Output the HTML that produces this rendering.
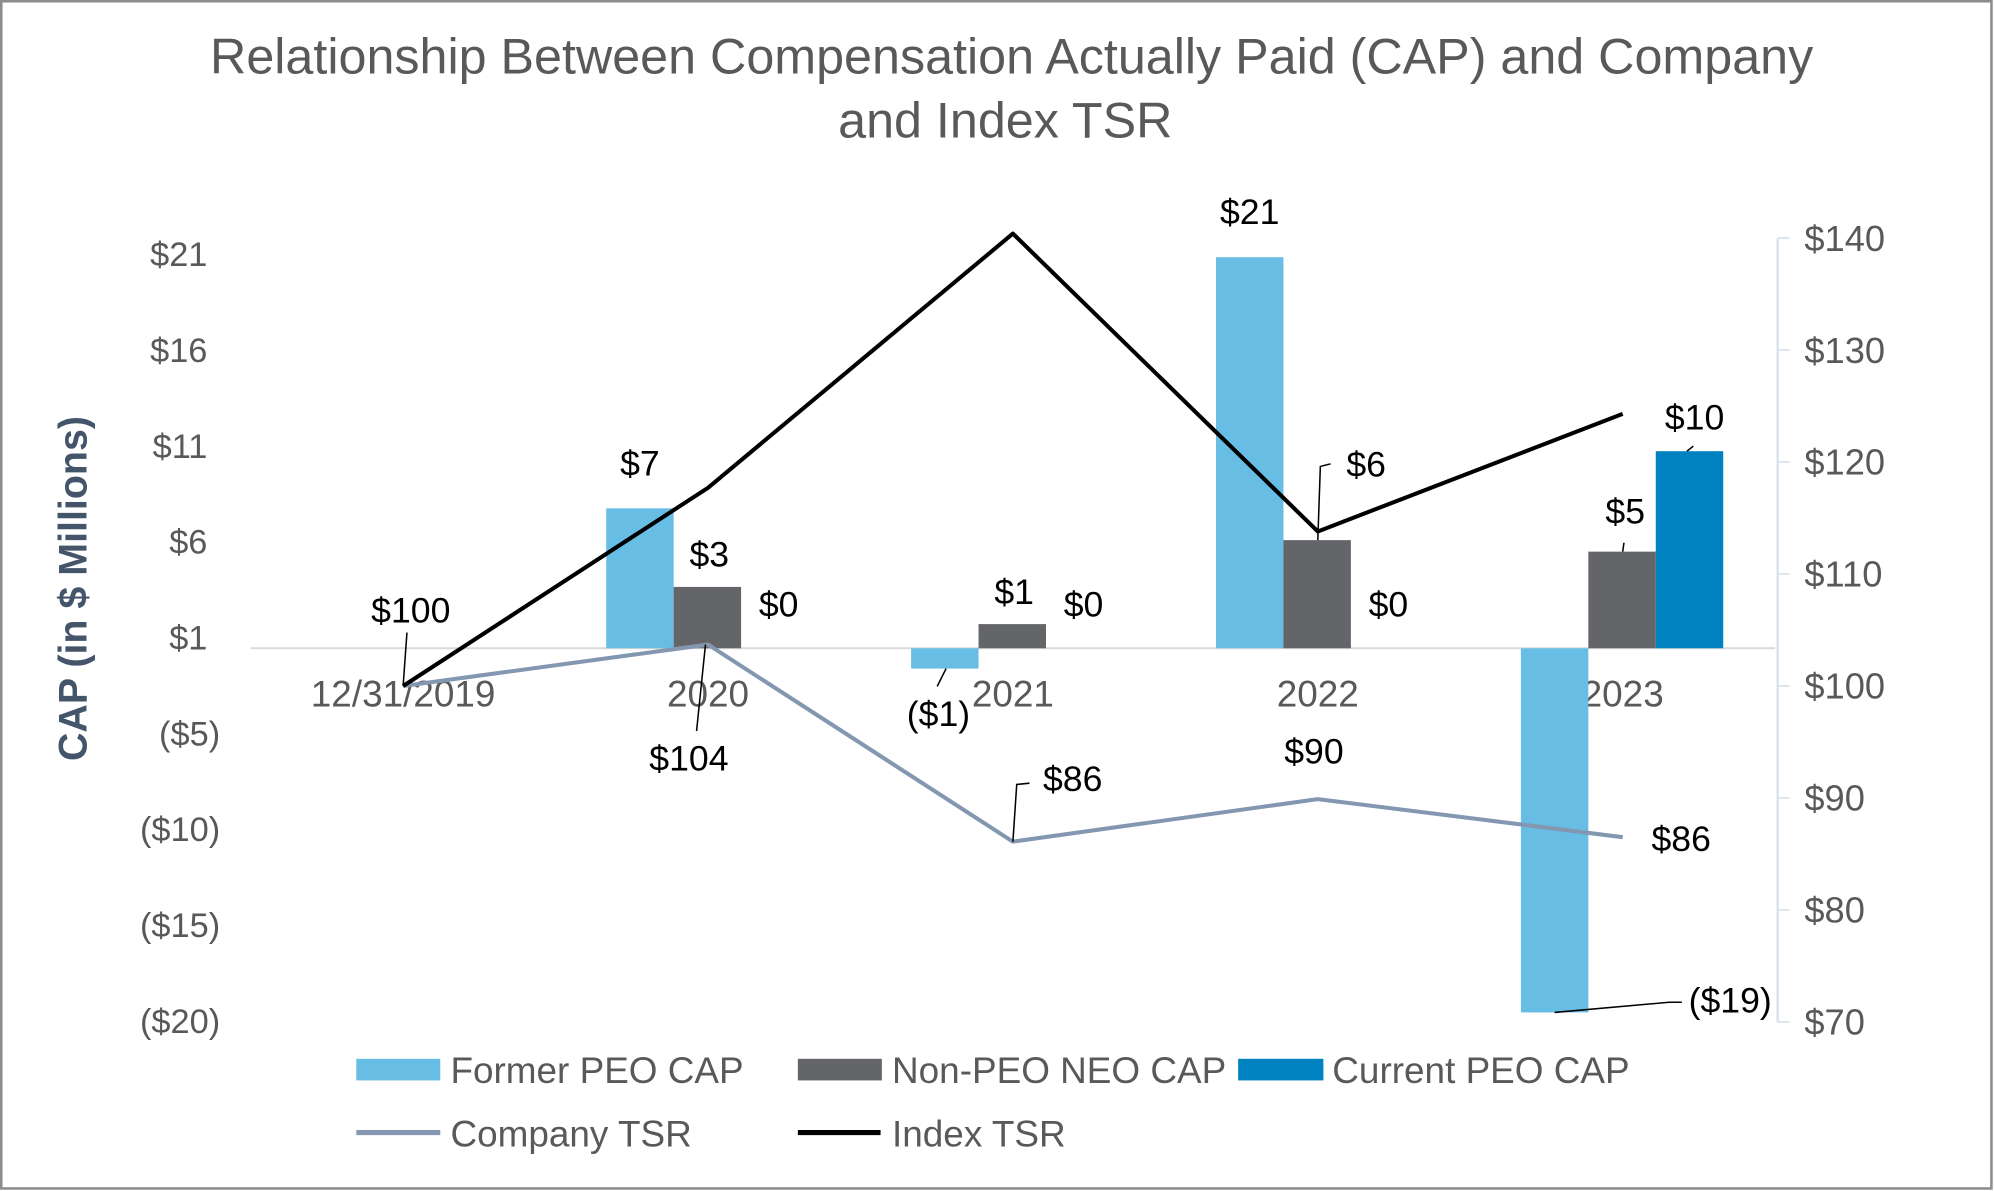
<!DOCTYPE html>
<html><head><meta charset="utf-8"><style>
html,body{margin:0;padding:0;background:#fff;}
svg{display:block;font-family:"Liberation Sans",Arial,sans-serif;}
</style></head><body>
<svg id="chart" width="1994" height="1191" viewBox="0 0 1567 937" preserveAspectRatio="none" xmlns="http://www.w3.org/2000/svg">
<rect x="1" y="1" width="1564" height="934" fill="#fff" stroke="#8c8c8c" stroke-width="2"/>
<text x="795" y="58" text-anchor="middle" font-size="39.5" fill="#595959">Relationship Between Compensation Actually Paid (CAP) and Company</text>
<text x="790" y="108" text-anchor="middle" font-size="39.5" fill="#595959">and Index TSR</text>
<text transform="translate(68,463) rotate(-90)" text-anchor="middle" font-size="31" font-weight="bold" fill="#44546a">CAP (in $ Millions)</text>
<g id="axes"></g>
<g id="bars"></g>
<g id="lines"></g>
<g id="labels"></g>
<g id="legend">
  <rect x="280" y="833" width="66" height="17" fill="#67bde4"/>
  <text x="354" y="852" font-size="29" fill="#595959">Former PEO CAP</text>
  <rect x="627" y="833" width="66" height="17" fill="#646569"/>
  <text x="701" y="852" font-size="29" fill="#595959">Non-PEO NEO CAP</text>
  <rect x="973" y="833" width="67" height="17" fill="#0082c0"/>
  <text x="1047" y="852" font-size="29" fill="#595959">Current PEO CAP</text>
  <line x1="280" y1="891" x2="346" y2="891" stroke="#8497b0" stroke-width="4"/>
  <text x="354" y="902" font-size="29" fill="#595959">Company TSR</text>
  <line x1="627" y1="891" x2="692" y2="891" stroke="#000" stroke-width="4"/>
  <text x="701" y="902" font-size="29" fill="#595959">Index TSR</text>
</g>
</svg>
<script>
const categories = ["12/31/2019","2020","2021","2022","2023"];
const formerPEO = [null, 7.3, -1.06, 20.4, -19.0];
const nonPEO = [null, 3.2, 1.26, 5.64, 5.04];
const currentPEO = [null, 0, 0, 0, 10.28];
const companyTSR = [100, 103.7, 86.1, 89.9, 86.5];
const indexTSR = [100, 117.7, 140.4, 113.8, 124.3];
const leftTicks = [20.6, 15.6, 10.6, 5.6, 0.6, -4.4, -9.4, -14.4, -19.4];
const leftTickLabels = ["$21","$16","$11","$6","$1","($5)","($10)","($15)","($20)"];
const rightTicks = [140,130,120,110,100,90,80,70];
const rightTickLabels = ["$140","$130","$120","$110","$100","$90","$80","$70"];
const formerLabels = ["", "$7", "($1)", "$21", "($19)"];
const nonPEOLabels = ["", "$3", "$1", "$6", "$5"];
const currentLabels = ["", "$0", "$0", "$0", "$10"];
const companyLabels = ["", "$104", "$86", "$90", "$86"];
const indexLabels = ["$100", "", "", "", ""];

const NS="http://www.w3.org/2000/svg";
const plotL=197, plotR=1395, band=(plotR-plotL)/categories.length;
const yL=v=>510-v*15.08;
const yR=v=>804-(v-70)*8.81;
const xC=i=>plotL+band*(i+0.5);
function mk(tag,attrs,parent,text){const e=document.createElementNS(NS,tag);for(const k in attrs)e.setAttribute(k,attrs[k]);if(text!==undefined)e.textContent=text;document.getElementById(parent).appendChild(e);return e;}

let e;
leftTicks.forEach((t,i)=>{
  const lbl=leftTickLabels[i];
  const xr=lbl.startsWith("(")?173:163;
  e=mk("text",{x:xr,y:yL(t)+10,"text-anchor":"end","font-size":27,fill:"#595959"},"axes",lbl);
  
  
});
e=mk("line",{x1:plotL,y1:yL(0),x2:plotR,y2:yL(0),stroke:"#d9d9d9","stroke-width":1.5},"axes");


e=mk("line",{x1:1397,y1:yR(140),x2:1397,y2:yR(70),stroke:"#dbe4ec","stroke-width":2},"axes");


rightTicks.forEach((t,i)=>{
  e=mk("line",{x1:1397,y1:yR(t),x2:1406,y2:yR(t),stroke:"#dbe4ec","stroke-width":1.5},"axes");
  
  
  e=mk("text",{x:1418,y:yR(t)+10,"font-size":28.5,fill:"#595959"},"axes",rightTickLabels[i]);
  
  
});
categories.forEach((c,i)=>{
  e=mk("text",{x:xC(i),y:556,"text-anchor":"middle","font-size":29,fill:"#595959"},"axes",c);
  
  
});

const bw=53;
function bar(v,i,off,color,name){
  if(v===null||v===0)return;
  const y0=yL(0),y1=yL(v);
  const b=mk("rect",{x:xC(i)+off,y:Math.min(y0,y1),width:bw,height:Math.abs(y1-y0),fill:color},"bars");
  
  
}
categories.forEach((c,i)=>{
  bar(formerPEO[i],i,-80,"#67bde4","bar-former-peo");
  bar(nonPEO[i],i,-27,"#646569","bar-non-peo");
  bar(currentPEO[i],i,26,"#0082c0","bar-current-peo");
});

const cp=companyTSR.map((v,i)=>xC(i)+","+yR(v)).join(" ");
e=mk("polyline",{points:cp,fill:"none",stroke:"#8497b0","stroke-width":3.2,"stroke-linejoin":"round"},"lines");


const ip=indexTSR.map((v,i)=>xC(i)+","+yR(v)).join(" ");
e=mk("polyline",{points:ip,fill:"none",stroke:"#000","stroke-width":3.2,"stroke-linejoin":"round"},"lines");



function lab(x,y,t,name){
  if(!t)return;
  const l=mk("text",{x:x,y:y+10,"text-anchor":"middle","font-size":28,fill:"#000"},"labels",t);
  
  
}
function lead(pts){
  const l=mk("polyline",{points:pts.map(p=>p.join(",")).join(" "),fill:"none",stroke:"#000","stroke-width":1.2},"labels");
  
  
}
lab(xC(0)+6,yR(indexTSR[0])-60,indexLabels[0],"index-tsr-label");
lead([[xC(0),yR(indexTSR[0])],[xC(0)+3,yR(indexTSR[0])-42]]);
[1,2,3,4].forEach(i=>{
  const v=formerPEO[i],x=xC(i)-53.5;
  if(i===1||i===3) lab(x,yL(v)-36,formerLabels[i],"former-peo-label");
  if(i===2){lab(x-5,yL(v)+35,formerLabels[i],"former-peo-label");lead([[x+1,yL(v)],[x-6,yL(v)+14]]);}
  if(i===4){lab(x+138,yL(v)-10,formerLabels[i],"former-peo-label");lead([[x,yL(v)],[x+90,yL(v)-8],[x+100,yL(v)-8]]);}
});
[1,2,3,4].forEach(i=>{
  const v=nonPEO[i],x=xC(i);
  if(i===3){lab(x+38,yL(v)-60,nonPEOLabels[i],"non-peo-label");lead([[x,yL(v)],[x+2,yL(v)-58],[x+10,yL(v)-60]]);}
  else if(i===4){lab(x+2,yL(v)-32,nonPEOLabels[i],"non-peo-label");lead([[x,yL(v)],[x+1,yL(v)-7]]);}
  else lab(x+1,yL(v)-26,nonPEOLabels[i],"non-peo-label");
});
[1,2,3,4].forEach(i=>{
  const v=currentPEO[i],x=xC(i)+52.5;
  if(i===4){lab(x+4,yL(v)-27,currentLabels[i],"current-peo-label");lead([[x-2,yL(v)],[x+3,yL(v)-4]]);}
  else lab(x+3,yL(v)-35,currentLabels[i],"current-peo-label");
});
lab(xC(1)-15,yR(companyTSR[1])+89,companyLabels[1],"company-tsr-label");
lead([[xC(1)-2,yR(companyTSR[1])],[xC(1)-9,yR(companyTSR[1])+68]]);
lab(xC(2)+47,yR(companyTSR[2])-50,companyLabels[2],"company-tsr-label");
lead([[xC(2),yR(companyTSR[2])],[xC(2)+3,yR(companyTSR[2])-45],[xC(2)+13,yR(companyTSR[2])-46]]);
lab(xC(3)-3,yR(companyTSR[3])-38,companyLabels[3],"company-tsr-label");
lab(xC(4)+46,yR(companyTSR[4])+1,companyLabels[4],"company-tsr-label");
</script>
</body></html>
